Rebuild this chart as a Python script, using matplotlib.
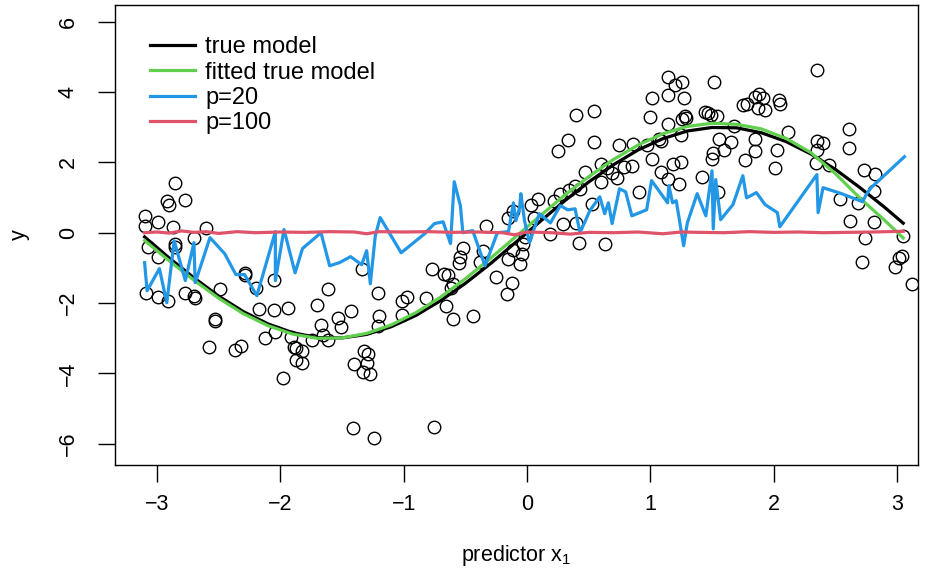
import numpy as np
import matplotlib.pyplot as plt

plt.rcParams['font.family'] = ['Liberation Sans', 'DejaVu Sans']
plt.rcParams['mathtext.default'] = 'regular'

# observed sample (predictor x1, response y)
pt_x = [-3.10, -3.10, -3.07, -3.09, -2.99, -2.99, -2.99, -2.92, -2.90, -2.91,
        -2.87, -2.85, -2.85, -2.85, -2.77, -2.77, -2.70, -2.70, -2.69, -2.60,
        -2.58, -2.53, -2.53, -2.49, -2.37, -2.32, -2.29, -2.29, -2.20, -2.17,
        -2.12, -2.05, -2.05, -2.04, -1.98, -1.94, -1.91, -1.89, -1.87, -1.82,
        -1.87, -1.82, -1.74, -1.70, -1.67, -1.65, -1.61, -1.61, -1.53, -1.51,
        -1.43, -1.41, -1.40, -1.34, -1.33, -1.32, -1.30, -1.29, -1.27, -1.24,
        -1.21, -1.20, -1.21, -1.01, -0.97, -1.01, -0.82, -0.77, -0.75, -0.67,
        -0.64, -0.60, -0.62, -0.66, -0.60, -0.44, -0.55, -0.54, -0.52, -0.38,
        -0.36, -0.33, -0.25, -0.16, -0.12, -0.15, -0.11, -0.15, -0.11, -0.06,
        -0.04, -0.03, -0.02, 0.03, 0.09, 0.06, 0.19, 0.22, 0.27, 0.29,
        0.34, 0.40, 0.39, 0.43, 0.42, 0.53, 0.47, 0.60, 0.65, 0.69,
        0.73, 0.60, 0.63, 0.25, 0.33, 0.54, 0.40, 0.54, 0.75, 0.79,
        0.85, 0.86, 0.91, 0.97, 1.00, 1.01, 1.01, 1.07, 1.09, 1.09,
        1.14, 1.20, 1.26, 1.14, 1.14, 1.14, 1.18, 1.23, 1.25, 1.25,
        1.26, 1.27, 1.28, 1.29, 1.42, 1.44, 1.47, 1.49, 1.52, 1.54,
        1.50, 1.51, 1.55, 1.56, 1.60, 1.65, 1.68, 1.75, 1.78, 1.77,
        1.85, 1.88, 1.91, 1.87, 1.93, 2.04, 2.05, 2.12, 1.85, 1.85,
        2.03, 2.01, 2.35, 2.35, 2.40, 2.35, 2.34, 2.45, 2.61, 2.61,
        2.73, 2.82, 2.54, 2.68, 2.81, 2.62, 2.81, 2.74, 3.05, 2.72,
        3.04, 3.02, 2.98, 3.12]
pt_y = [0.48, 0.20, -0.40, -1.70, 0.31, -0.68, -1.82, 0.91, 0.80, -1.93,
        0.17, -0.31, -0.40, 1.42, 0.94, -1.70, -0.14, -1.79, -1.85, 0.14,
        -3.24, -2.44, -2.50, -1.59, -3.32, -3.21, -1.14, -1.19, -1.56, -2.16,
        -2.98, -1.34, -2.19, -2.81, -4.12, -2.13, -2.95, -3.24, -3.27, -3.35,
        -3.61, -3.69, -3.04, -2.05, -2.61, -2.90, -3.04, -1.59, -2.41, -2.67,
        -2.22, -5.54, -3.72, -1.02, -3.95, -3.35, -3.69, -3.44, -4.01, -5.82,
        -1.70, -2.36, -2.64, -1.93, -1.82, -2.33, -1.85, -1.02, -5.51, -1.16,
        -1.19, -1.45, -1.56, -2.07, -2.44, -2.36, -0.85, -0.68, -0.43, -0.82,
        -0.51, 0.20, -1.25, -1.73, -1.42, 0.43, 0.63, -0.74, -0.48, -0.88,
        -0.60, -0.31, -0.11, 0.80, 0.97, 0.43, -0.03, 0.91, 1.11, 0.26,
        1.22, 0.28, 1.34, 1.25, -0.28, 0.82, 1.73, 1.96, 1.85, 1.70,
        1.56, 1.45, -0.31, 2.33, 2.64, 2.59, 3.35, 3.47, 2.50, 1.88,
        1.90, 2.53, 1.16, 2.50, 3.30, 2.10, 3.84, 2.67, 2.61, 1.73,
        4.43, 4.20, 4.29, 3.92, 3.10, 1.53, 1.96, 1.39, 2.02, 2.78,
        3.24, 3.84, 3.32, 3.27, 1.59, 3.44, 3.41, 3.35, 4.29, 3.32,
        2.10, 2.27, 1.16, 2.67, 2.36, 2.59, 3.04, 3.64, 3.66, 2.07,
        3.86, 3.95, 3.84, 3.55, 3.49, 3.78, 3.66, 2.87, 2.67, 2.33,
        2.36, 1.85, 4.63, 2.61, 2.56, 2.36, 1.99, 1.93, 2.95, 2.41,
        1.79, 1.68, 0.97, 0.85, 1.19, 0.34, 0.31, -0.14, -0.09, -0.82,
        -0.65, -0.71, -0.97, -1.45]

# true curve and fitted true model, on a common grid
curve_x = [-3.10, -2.9, -2.7, -2.5, -2.3, -2.1, -1.9, -1.7, -1.5, -1.3, -1.1,
           -0.9, -0.7, -0.5, -0.3, -0.1, 0.1, 0.3, 0.5, 0.7, 0.9, 1.1, 1.3,
           1.5, 1.7, 1.9, 2.1, 2.3, 2.5, 2.7, 2.9, 3.05]
true_y = [-0.12, -0.72, -1.28, -1.80, -2.24, -2.59, -2.84, -2.98, -2.99, -2.89,
          -2.67, -2.35, -1.93, -1.44, -0.89, -0.30, 0.30, 0.89, 1.44, 1.93,
          2.35, 2.67, 2.89, 2.99, 2.98, 2.84, 2.59, 2.24, 1.80, 1.28, 0.72, 0.27]
fit_y = [-0.22, -0.80, -1.35, -1.86, -2.30, -2.64, -2.88, -3.00, -2.99, -2.86,
         -2.62, -2.27, -1.83, -1.31, -0.74, -0.14, 0.46, 1.05, 1.59, 2.08,
         2.49, 2.81, 3.02, 3.11, 3.08, 2.95, 2.68, 2.28, 1.68, 0.98, 0.35, -0.15]

# polynomial fit with p=20
p20_x = [-3.10, -3.08, -2.98, -2.92, -2.86, -2.77, -2.70, -2.69, -2.57, -2.45,
         -2.36, -2.29, -2.19, -2.04, -2.04, -1.97, -1.88, -1.82, -1.67, -1.60,
         -1.52, -1.43, -1.34, -1.30, -1.27, -1.23, -1.19, -1.02, -0.83, -0.75,
         -0.68, -0.62, -0.59, -0.54, -0.52, -0.44, -0.34, -0.24, -0.15, -0.11,
         -0.09, -0.06, -0.05, -0.02, 0.02, 0.10, 0.19, 0.27, 0.33, 0.39,
         0.43, 0.51, 0.59, 0.63, 0.66, 0.69, 0.75, 0.80, 0.85, 0.97,
         1.01, 1.14, 1.15, 1.18, 1.21, 1.27, 1.30, 1.38, 1.45, 1.50,
         1.51, 1.53, 1.57, 1.67, 1.75, 1.78, 1.86, 1.93, 2.03, 2.05,
         2.35, 2.36, 2.40, 2.55, 2.72, 2.75, 2.79, 3.06]
p20_y = [-0.85, -1.65, -1.02, -1.99, -0.23, -1.36, -0.28, -1.42, -0.14, -0.60,
         -1.19, -1.19, -1.79, 0.03, -1.36, 0.09, -1.14, -0.45, 0.00, -0.94,
         -0.85, -0.68, -0.91, -0.51, -1.45, -0.09, 0.43, -0.57, -0.03, 0.26,
         0.31, -0.31, 1.45, 0.77, 0.00, 0.06, -0.94, 0.00, 0.03, 0.85,
         0.34, 0.71, 1.11, 0.34, -0.28, 0.54, 0.28, 0.77, 0.65, 0.68,
         0.00, 0.63, 1.02, 0.54, 0.85, 0.26, 1.25, 1.16, 0.48, 0.65,
         1.48, 0.85, 1.34, 0.85, 0.91, -0.37, 0.28, 1.11, 0.48, 1.76,
         0.11, 1.51, 0.37, 0.80, 1.62, 0.99, 1.14, 0.80, 0.57, 0.17,
         1.65, 0.57, 1.28, 1.11, 0.88, 1.08, 1.28, 2.16]

# polynomial fit with p=100
p100_x = [-3.10, -3.0, -2.9, -2.8, -2.7, -2.6, -2.5, -2.35, -2.2, -2.0,
          -1.8, -1.6, -1.4, -1.3, -1.2, -1.0, -0.8, -0.6, -0.4, -0.2,
          -0.1, 0.0, 0.2, 0.35, 0.5, 0.7, 0.9, 1.1, 1.25, 1.4,
          1.6, 1.8, 2.0, 2.2, 2.4, 2.6, 2.8, 3.05]
p100_y = [0.00, 0.02, -0.01, 0.05, 0.01, 0.03, -0.02, 0.03, 0.00, 0.02,
          0.01, 0.03, 0.02, -0.03, 0.03, 0.02, 0.03, 0.01, 0.02, 0.00,
          -0.06, 0.02, 0.00, -0.04, 0.01, 0.00, 0.02, -0.03, 0.02, 0.01,
          0.00, 0.03, 0.01, 0.02, 0.00, 0.01, 0.02, 0.04]

W, H = 931, 571
fig = plt.figure(figsize=(W / 100, H / 100), dpi=100)
ax = fig.add_axes([115 / W, 1 - 465 / H, (918 - 115) / W, (465 - 5) / H])

ax.plot(pt_x, pt_y, 'o', mfc='none', mec='black', ms=9, mew=1.0)
ax.plot(curve_x, true_y, color='black', lw=2.3, label='true model')
ax.plot(curve_x, fit_y, color='#61D04F', lw=2.3, label='fitted true model')
ax.plot(p20_x, p20_y, color='#2297E6', lw=2.3, label='p=20')
ax.plot(p100_x, p100_y, color='#DF536B', lw=2.3, label='p=100')

ax.set_xlim(-3.34, 3.17)
ax.set_ylim(-6.6, 6.47)
ax.set_xticks([-3, -2, -1, 0, 1, 2, 3])
ax.set_yticks([-6, -4, -2, 0, 2, 4, 6])
ax.set_xticklabels(['\u22123', '\u22122', '\u22121', '0', '1', '2', '3'])
ax.set_yticklabels(['\u22126', '\u22124', '\u22122', '0', '2', '4', '6'],
                   rotation=90, va='center')
ax.tick_params(direction='out', length=12, width=1, labelsize=15.5, pad=9)
ax.tick_params(axis='y', pad=14)
for s in ax.spines.values():
    s.set_linewidth(1)

ax.set_xlabel('predictor x$_1$', fontsize=15.5, labelpad=20)
ax.set_ylabel('y', fontsize=15.5, labelpad=20)

ax.legend(loc='upper left', frameon=False, fontsize=17, handlelength=1.9,
          handletextpad=0.45, labelspacing=0.14, borderpad=0, borderaxespad=0,
          bbox_to_anchor=(0.0436, 0.932))

fig.savefig('out.png', dpi=100)
